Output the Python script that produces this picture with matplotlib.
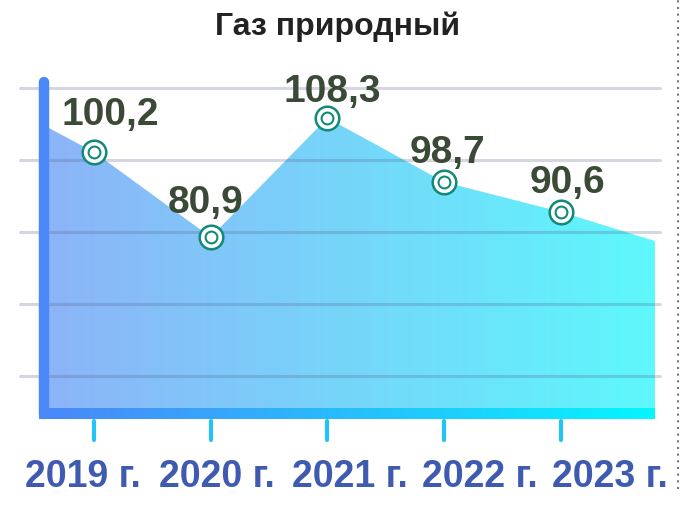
import numpy as np
import matplotlib
matplotlib.use("Agg")
import matplotlib.pyplot as plt
from matplotlib.patches import Polygon
from matplotlib.colors import LinearSegmentedColormap
from matplotlib.lines import Line2D

plt.rcParams['font.family'] = ['Liberation Sans', 'DejaVu Sans']

title = "Газ природный"
years = ["2019 г.", "2020 г.", "2021 г.", "2022 г.", "2023 г."]
labels = ["100,2", "80,9", "108,3", "98,7", "90,6"]
# plotted heights (grid lines at 20..100)
levels = [82.2, 58.6, 91.7, 73.9, 65.6]
edge_levels = [88.9, 57.5]  # where the area meets the left and right borders

W, H = 680, 506
fig = plt.figure(figsize=(W / 100, H / 100), dpi=100)
ax = fig.add_axes([49 / W, (H - 409) / H, 606 / W, 326 / H])
x0, x1 = -0.386, 4.807
y0, y1 = 11.1, 101.7

xs = np.arange(len(levels))
px = 1 / 116.7   # one pixel in x data units
py = 1 / 3.6     # one pixel in y data units
grad = np.linspace(0, 1, 256).reshape(1, -1)

# gradient area
poly_x = [x0] + list(xs) + [x1, x1, x0]
poly_y = [edge_levels[0]] + levels + [edge_levels[1], y0, y0]
area = Polygon(np.column_stack([poly_x, poly_y]), closed=True,
               facecolor="none", edgecolor="none")
ax.add_patch(area)
area_cmap = LinearSegmentedColormap.from_list("area", ["#8db4f8", "#5ef8fc"])
img = ax.imshow(grad, cmap=area_cmap, extent=[x0, x1, y0, y1],
                aspect="auto", zorder=1)
img.set_clip_path(area)

# grid lines
for g in [20, 40, 60, 80, 100]:
    ax.plot([-74 * px, x1 + 5 * px], [g, g], color=(0.33, 0.38, 0.55),
            alpha=0.25, lw=2.2, solid_capstyle="round", clip_on=False, zorder=2)

# bottom bar with gradient
bar_cmap = LinearSegmentedColormap.from_list("bar", ["#4a86f8", "#05f5ff"])
ax.imshow(grad, cmap=bar_cmap,
          extent=[x0 - 10 * px, x1, y0 - 11 * py, y0],
          aspect="auto", zorder=3, clip_on=False)

# left vertical bar
ax.plot([x0 - 5 * px, x0 - 5 * px], [y1, y0 - 6 * py], color="#4a88f8",
        lw=7.5, solid_capstyle="round", clip_on=False, zorder=4)

# small ticks below the bar
for i in xs:
    ax.plot([i, i], [y0 - 13 * py, y0 - 32 * py], color="#22c4f8",
            lw=3, solid_capstyle="round", clip_on=False, zorder=3)

# markers
ax.plot(xs, levels, "o", ms=17, mfc="white", mec="#138a78", mew=1.8,
        zorder=5, clip_on=False)
ax.plot(xs, levels, "o", ms=8.5, mfc="white", mec="#138a78", mew=1.5,
        zorder=6, clip_on=False)

# value labels
offsets = [(16, 28), (-5, 25), (5, 17), (3, 20), (7, 20)]
for x, y, lab, (dx, dy) in zip(xs, levels, labels, offsets):
    ax.annotate(lab, (x, y), xytext=(dx * 0.72, dy * 0.72),
                textcoords="offset points", ha="center", va="baseline",
                fontsize=28, fontweight="bold", color="#3b4a37", zorder=7)

ax.set_xlim(x0, x1)
ax.set_ylim(y0, y1)
ax.axis("off")

# year labels
year_x = [83, 217, 350, 480, 610]
for xp, yr in zip(year_x, years):
    fig.text(xp / W, 1 - 487 / H, yr, ha="center", va="baseline",
             fontsize=27, fontweight="bold", color="#3f5bb0")

fig.text(337.5 / W, 1 - 35 / H, title, ha="center", va="baseline",
         fontsize=23, fontweight="bold", color="#222222")

# dotted border on the right
fig.add_artist(Line2D([678 / W, 678 / W], [1 - 490 / H, 1.0],
                      transform=fig.transFigure, color="#777777",
                      lw=1.5, linestyle=(0, (1, 2.2))))

fig.savefig("out.png", dpi=100)
